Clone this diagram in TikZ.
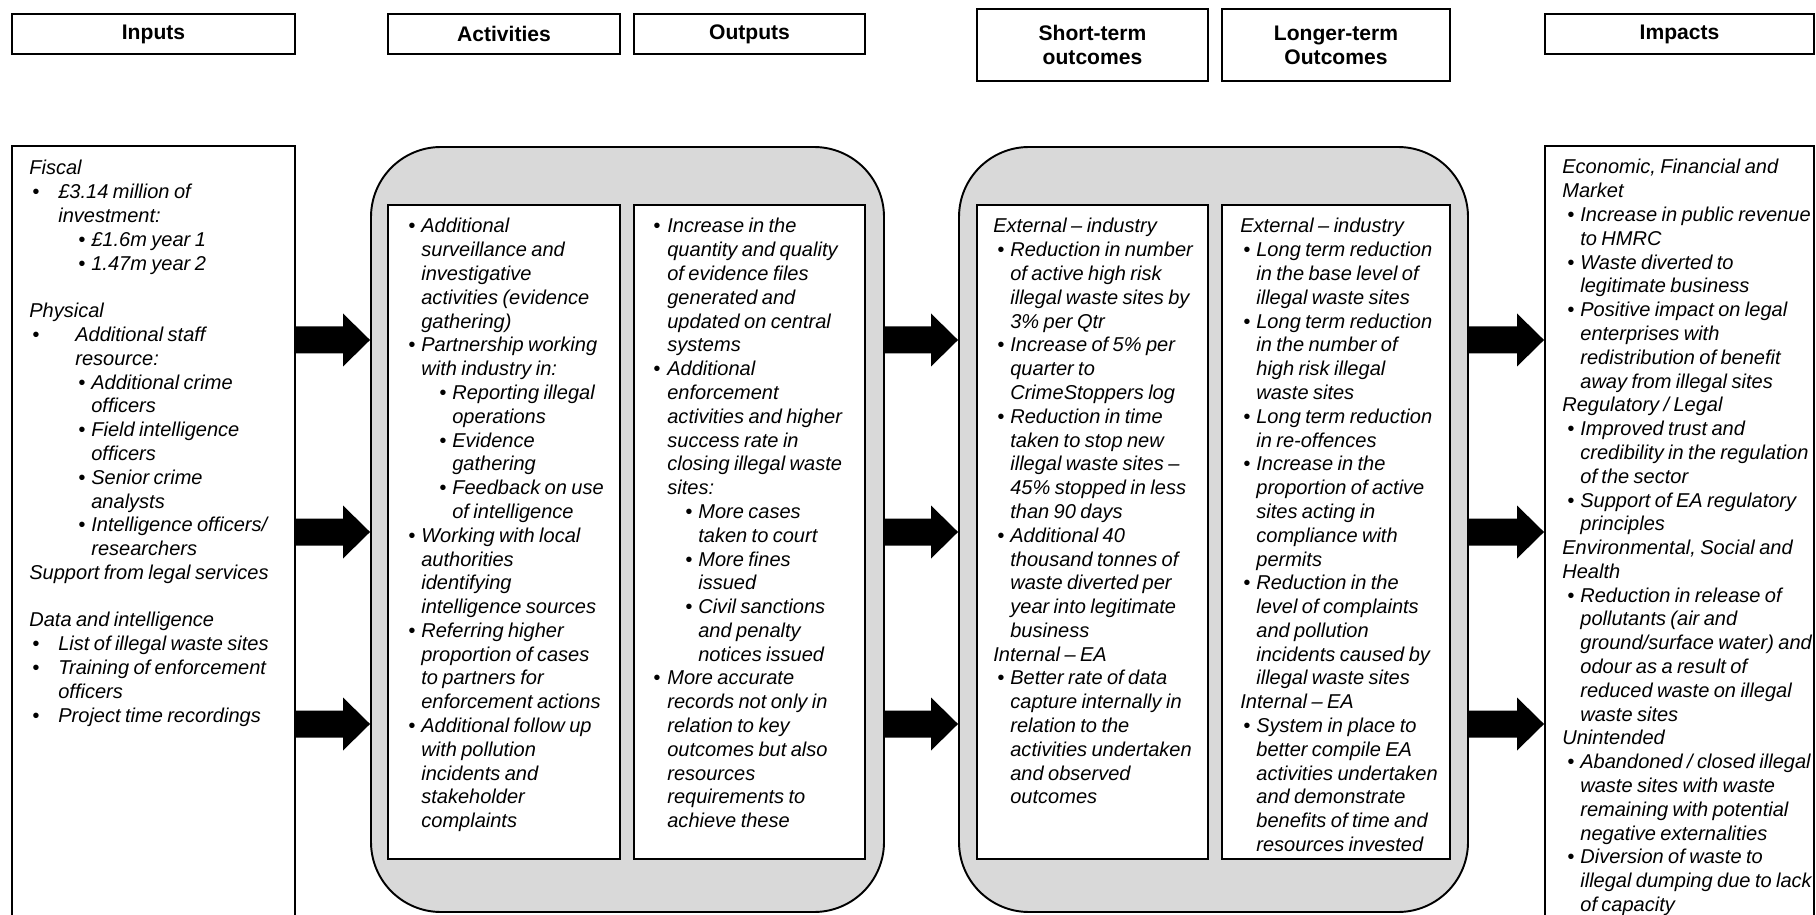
\documentclass[tikz,border=0pt]{standalone}
\usepackage{fontspec}
\setmainfont{Liberation Sans}
\usetikzlibrary{calc,fit}
\definecolor{panelgray}{HTML}{D9D9D9}
\newlength{\px}
\setlength{\px}{0.02cm}
% bullet at #1, text at #1+#2 (in px)
\newcommand{\bl}[2]{\hspace*{#1\px}\makebox[#2\px][l]{\textbullet}}
\newcommand{\tb}[1]{\hspace*{#1\px}}
\newcommand{\txtbox}[1]{\parbox[t]{6cm}{\spaceskip=0.22em plus 0.1em minus 0.05em\relax #1}}
% fat arrow from #1 to #2
\newcommand{\blockarrow}[2]{%
  \fill ($(#1)+(0,13.5)$) -- ($(#2)+(-27,13.5)$) -- ($(#2)+(-27,26.5)$) -- (#2)
    -- ($(#2)+(-27,-26.5)$) -- ($(#2)+(-27,-13.5)$) -- ($(#1)+(0,-13.5)$) -- cycle;}
\tikzset{
  hdr/.style={draw, line width=1.1pt, inner sep=0pt, align=center, font=\fontsize{12}{13.6}\selectfont\bfseries},
  box/.style={draw, line width=1.1pt, fill=white, inner sep=0pt},
  panel/.style={draw, line width=1.1pt, fill=panelgray, inner sep=0pt, rounded corners=1.4cm},
  txt/.style={anchor=base west, inner sep=0pt, font=\fontsize{11.4}{13.54}\selectfont\itshape},
}
\begin{document}
\begin{tikzpicture}[x=0.02cm, y=-0.02cm]
\useasboundingbox (0,0) rectangle (1816,915);
\clip (0,0) rectangle (1816,915);
% Headers
\node[hdr, minimum width=283\px, minimum height=40\px] (hInputs) at (153.5,34) {Inputs};
\node[hdr, minimum width=232\px, minimum height=40\px] (hActivities) at (504,34) {Activities};
\node[hdr, minimum width=231\px, minimum height=40\px] (hOutputs) at (749.5,34) {Outputs};
\node[hdr, minimum width=231\px, minimum height=72\px] (hShort) at (1092.5,45) {Short-term\\outcomes};
\node[hdr, minimum width=228\px, minimum height=72\px] (hLonger) at (1336,45) {Longer-term\\Outcomes};
\node[hdr, minimum width=269\px, minimum height=40\px] (hImpacts) at (1679.5,34) {Impacts};
% Boxes
\node[box, fit={(12,146) (295,940)}] (inputs) {};
\node[panel, fit={(371,147) (884,912)}] (actpanel) {};
\node[box, fit={(388,205) (620,859)}] (activities) {};
\node[box, fit={(634,205) (865,859)}] (outputs) {};
\node[panel, fit={(959,147) (1468,912)}] (outpanel) {};
\node[box, fit={(977,205) (1208,859)}] (shortterm) {};
\node[box, fit={(1222,205) (1450,859)}] (longterm) {};
\node[box, fit={(1545,146) (1814,940)}] (impacts) {};
% Texts
\node[txt] (inputsText) at (29,175) {\txtbox{%
Fiscal\\
\bl{3}{26}£3.14 million of\\
\tb{29}investment:\\
\bl{49}{13}£1.6m year 1\\
\bl{49}{13}1.47m year 2\\
\mbox{}\\
Physical\\
\bl{3}{43}Additional staff\\
\tb{46}resource:\\
\bl{49}{13}Additional crime\\
\tb{62}officers\\
\bl{49}{13}Field intelligence\\
\tb{62}officers\\
\bl{49}{13}Senior crime\\
\tb{62}analysts\\
\bl{49}{13}Intelligence officers/\\
\tb{62}researchers\\
Support from legal services\\
\mbox{}\\
Data and intelligence\\
\bl{3}{26}List of illegal waste sites\\
\bl{3}{26}Training of enforcement\\
\tb{29}officers\\
\bl{3}{26}Project time recordings}};
\node[txt] (activitiesText) at (408,233) {\txtbox{%
\bl{0}{13}Additional\\
\tb{13}surveillance and\\
\tb{13}investigative\\
\tb{13}activities (evidence\\
\tb{13}gathering)\\
\bl{0}{13}Partnership working\\
\tb{13}with industry in:\\
\bl{31}{13}Reporting illegal\\
\tb{44}operations\\
\bl{31}{13}Evidence\\
\tb{44}gathering\\
\bl{31}{13}Feedback on use\\
\tb{44}of intelligence\\
\bl{0}{13}Working with local\\
\tb{13}authorities\\
\tb{13}identifying\\
\tb{13}intelligence sources\\
\bl{0}{13}Referring higher\\
\tb{13}proportion of cases\\
\tb{13}to partners for\\
\tb{13}enforcement actions\\
\bl{0}{13}Additional follow up\\
\tb{13}with pollution\\
\tb{13}incidents and\\
\tb{13}stakeholder\\
\tb{13}complaints}};
\node[txt] (outputsText) at (653,233) {\txtbox{%
\bl{0}{14}Increase in the\\
\tb{14}quantity and quality\\
\tb{14}of evidence files\\
\tb{14}generated and\\
\tb{14}updated on central\\
\tb{14}systems\\
\bl{0}{14}Additional\\
\tb{14}enforcement\\
\tb{14}activities and higher\\
\tb{14}success rate in\\
\tb{14}closing illegal waste\\
\tb{14}sites:\\
\bl{32}{13}More cases\\
\tb{45}taken to court\\
\bl{32}{13}More fines\\
\tb{45}issued\\
\bl{32}{13}Civil sanctions\\
\tb{45}and penalty\\
\tb{45}notices issued\\
\bl{0}{14}More accurate\\
\tb{14}records not only in\\
\tb{14}relation to key\\
\tb{14}outcomes but also\\
\tb{14}resources\\
\tb{14}requirements to\\
\tb{14}achieve these}};
\node[txt] (shortText) at (993,233) {\txtbox{%
External -- industry\\
\bl{4}{13}Reduction in number\\
\tb{17}of active high risk\\
\tb{17}illegal waste sites by\\
\tb{17}3\% per Qtr\\
\bl{4}{13}Increase of 5\% per\\
\tb{17}quarter to\\
\tb{17}CrimeStoppers log\\
\bl{4}{13}Reduction in time\\
\tb{17}taken to stop new\\
\tb{17}illegal waste sites --\\
\tb{17}45\% stopped in less\\
\tb{17}than 90 days\\
\bl{4}{13}Additional 40\\
\tb{17}thousand tonnes of\\
\tb{17}waste diverted per\\
\tb{17}year into legitimate\\
\tb{17}business\\
Internal -- EA\\
\bl{4}{13}Better rate of data\\
\tb{17}capture internally in\\
\tb{17}relation to the\\
\tb{17}activities undertaken\\
\tb{17}and observed\\
\tb{17}outcomes}};
\node[txt] (longText) at (1240,233) {\txtbox{%
External -- industry\\
\bl{3}{13}Long term reduction\\
\tb{16}in the base level of\\
\tb{16}illegal waste sites\\
\bl{3}{13}Long term reduction\\
\tb{16}in the number of\\
\tb{16}high risk illegal\\
\tb{16}waste sites\\
\bl{3}{13}Long term reduction\\
\tb{16}in re-offences\\
\bl{3}{13}Increase in the\\
\tb{16}proportion of active\\
\tb{16}sites acting in\\
\tb{16}compliance with\\
\tb{16}permits\\
\bl{3}{13}Reduction in the\\
\tb{16}level of complaints\\
\tb{16}and pollution\\
\tb{16}incidents caused by\\
\tb{16}illegal waste sites\\
Internal -- EA\\
\bl{3}{13}System in place to\\
\tb{16}better compile EA\\
\tb{16}activities undertaken\\
\tb{16}and demonstrate\\
\tb{16}benefits of time and\\
\tb{16}resources invested}};
\node[txt] (impactsText) at (1562,174) {\txtbox{%
Economic, Financial and\\
Market\\
\bl{5}{13}Increase in public revenue\\
\tb{18}to HMRC\\
\bl{5}{13}Waste diverted to\\
\tb{18}legitimate business\\
\bl{5}{13}Positive impact on legal\\
\tb{18}enterprises with\\
\tb{18}redistribution of benefit\\
\tb{18}away from illegal sites\\
Regulatory / Legal\\
\bl{5}{13}Improved trust and\\
\tb{18}credibility in the regulation\\
\tb{18}of the sector\\
\bl{5}{13}Support of EA regulatory\\
\tb{18}principles\\
Environmental, Social and\\
Health\\
\bl{5}{13}Reduction in release of\\
\tb{18}pollutants (air and\\
\tb{18}ground/surface water) and\\
\tb{18}odour as a result of\\
\tb{18}reduced waste on illegal\\
\tb{18}waste sites\\
Unintended\\
\bl{5}{13}Abandoned / closed illegal\\
\tb{18}waste sites with waste\\
\tb{18}remaining with potential\\
\tb{18}negative externalities\\
\bl{5}{13}Diversion of waste to\\
\tb{18}illegal dumping due to lack\\
\tb{18}of capacity}};
% Arrows
\coordinate (r1) at (0,340);
\coordinate (r2) at (0,532);
\coordinate (r3) at (0,724);
\foreach \r in {r1,r2,r3} {
  \blockarrow{inputs.east |- \r}{actpanel.west |- \r}
  \blockarrow{actpanel.east |- \r}{outpanel.west |- \r}
  \blockarrow{outpanel.east |- \r}{impacts.west |- \r}
}
\end{tikzpicture}
\end{document}
